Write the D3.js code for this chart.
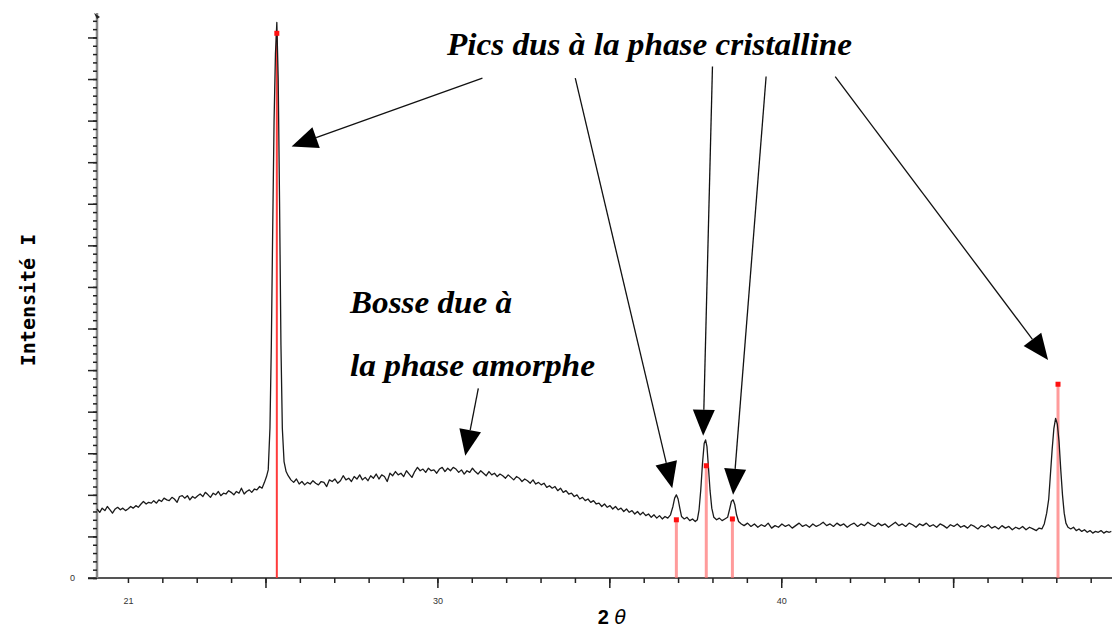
<!DOCTYPE html>
<html>
<head>
<meta charset="utf-8">
<script src="https://cdn.jsdelivr.net/npm/d3@7"></script>
<style>
  body { margin: 0; background: #fff; }
  svg { display: block; }
</style>
</head>
<body>
<div id="chart"></div>
<script>
// diffractogram, [2θ, intensity]
const scan = [
  [20.10,8.3],[20.18,7.9],[20.25,8.4],[20.33,8.1],[20.40,8.6],[20.48,8.2],[20.55,7.8],[20.63,8.3],[20.70,8.5],[20.78,8.2],
  [20.85,8.4],[20.93,8.1],[21.00,8.3],[21.08,8.6],[21.15,8.4],[21.23,8.7],[21.30,8.5],[21.38,8.9],[21.45,9.2],[21.53,8.9],
  [21.60,9.1],[21.68,9.0],[21.75,9.3],[21.83,9.0],[21.90,9.4],[21.98,9.2],[22.05,9.6],[22.13,9.4],[22.20,9.3],[22.28,9.7],
  [22.35,9.5],[22.43,9.1],[22.50,9.8],[22.58,9.9],[22.65,9.6],[22.73,9.9],[22.80,9.4],[22.88,9.8],[22.95,9.6],[23.03,9.9],
  [23.10,10.1],[23.18,9.8],[23.25,10.3],[23.33,10.0],[23.40,9.7],[23.48,10.2],[23.55,10.0],[23.63,10.4],[23.70,9.9],[23.78,10.2],
  [23.85,10.1],[23.93,10.5],[24.00,10.3],[24.08,10.0],[24.15,10.4],[24.23,10.2],[24.30,10.8],[24.38,10.1],[24.45,10.4],[24.53,10.6],
  [24.60,10.3],[24.68,10.7],[24.75,10.6],[24.83,11.0],[24.90,10.8],[24.97,11.5],[25.03,12.2],[25.08,13.0],[25.13,18.0],[25.17,28.0],
  [25.21,42.0],[25.25,55.0],[25.29,63.0],[25.33,66.8],[25.37,60.0],[25.41,45.0],[25.45,28.0],[25.49,18.0],[25.54,14.0],[25.60,12.8],
  [25.66,12.3],[25.74,11.8],[25.82,11.5],[25.90,11.9],[25.98,11.3],[26.06,11.6],[26.14,11.2],[26.22,11.5],[26.30,11.3],[26.38,11.7],
  [26.46,11.4],[26.54,11.2],[26.62,11.6],[26.70,11.5],[26.78,11.0],[26.86,11.8],[26.94,11.6],[27.02,11.9],[27.10,11.4],[27.18,11.7],
  [27.26,12.3],[27.34,11.8],[27.42,12.0],[27.50,11.6],[27.58,12.2],[27.66,11.9],[27.74,12.4],[27.82,11.8],[27.90,12.1],[27.98,11.7],
  [28.06,12.3],[28.14,12.0],[28.22,12.5],[28.30,11.9],[28.38,12.4],[28.46,12.2],[28.54,11.6],[28.62,12.6],[28.70,12.3],[28.78,12.8],
  [28.86,12.4],[28.94,12.6],[29.02,12.2],[29.10,12.9],[29.18,12.5],[29.26,12.1],[29.34,12.8],[29.42,13.3],[29.50,12.9],[29.58,13.1],
  [29.66,12.7],[29.74,13.2],[29.82,12.9],[29.90,13.0],[29.98,12.6],[30.06,13.1],[30.14,13.3],[30.22,12.8],[30.30,13.2],[30.38,12.9],
  [30.46,13.3],[30.54,13.1],[30.62,12.7],[30.70,13.0],[30.78,12.5],[30.86,12.9],[30.94,12.7],[31.02,13.2],[31.10,12.8],[31.18,12.5],
  [31.26,12.9],[31.34,12.6],[31.42,12.3],[31.50,12.8],[31.58,12.4],[31.66,12.6],[31.74,12.2],[31.82,12.5],[31.90,12.3],[31.98,12.0],
  [32.06,12.4],[32.14,12.1],[32.22,11.8],[32.30,12.2],[32.38,12.0],[32.46,11.6],[32.54,11.9],[32.62,11.7],[32.70,11.4],[32.78,11.8],
  [32.86,11.3],[32.94,11.5],[33.02,11.2],[33.10,11.4],[33.18,10.9],[33.26,11.1],[33.34,10.8],[33.42,11.0],[33.50,10.5],[33.58,10.8],
  [33.66,10.3],[33.74,10.5],[33.82,10.1],[33.90,10.2],[33.98,9.8],[34.06,10.0],[34.14,9.5],[34.22,9.7],[34.30,9.3],[34.38,9.5],
  [34.46,9.1],[34.54,9.3],[34.62,8.9],[34.70,9.0],[34.78,8.6],[34.86,8.9],[34.94,8.5],[35.02,8.7],[35.10,8.3],[35.18,8.6],
  [35.26,8.2],[35.34,8.4],[35.42,8.0],[35.50,8.3],[35.58,7.9],[35.66,8.1],[35.74,7.7],[35.82,8.0],[35.90,7.6],[35.98,7.9],
  [36.06,7.5],[36.14,7.7],[36.22,7.3],[36.30,7.6],[36.38,7.2],[36.46,7.5],[36.54,7.1],[36.62,7.4],[36.70,7.2],[36.78,7.6],
  [36.85,8.6],[36.90,9.6],[36.95,10.0],[37.00,9.5],[37.05,8.4],[37.10,7.4],[37.18,7.1],[37.26,7.3],[37.34,6.9],[37.42,7.1],
  [37.50,6.8],[37.56,7.0],[37.61,8.2],[37.66,10.6],[37.71,13.8],[37.76,16.2],[37.80,16.6],[37.84,15.8],[37.88,13.5],[37.93,10.5],
  [37.98,8.4],[38.04,7.3],[38.12,7.0],[38.20,7.2],[38.28,6.9],[38.36,7.1],[38.44,7.3],[38.50,8.3],[38.55,9.2],[38.60,9.4],
  [38.65,8.8],[38.70,7.6],[38.76,6.8],[38.84,6.5],[38.92,6.3],[39.02,6.6],[39.12,6.2],[39.22,6.5],[39.32,6.1],[39.42,6.4],
  [39.52,6.2],[39.62,6.6],[39.72,6.0],[39.82,6.3],[39.92,6.1],[40.02,6.5],[40.12,6.2],[40.22,6.4],[40.32,6.0],[40.42,6.3],
  [40.52,6.6],[40.62,6.2],[40.72,6.4],[40.82,6.1],[40.92,6.5],[41.02,6.2],[41.12,6.4],[41.22,6.7],[41.32,6.3],[41.42,6.5],
  [41.52,6.2],[41.62,6.6],[41.72,6.3],[41.82,6.5],[41.92,6.1],[42.02,6.4],[42.12,6.6],[42.22,6.2],[42.32,6.5],[42.42,6.3],
  [42.52,6.7],[42.62,6.4],[42.72,6.2],[42.82,6.6],[42.92,6.3],[43.02,6.5],[43.12,6.1],[43.22,6.4],[43.32,6.7],[43.42,6.3],
  [43.52,6.5],[43.62,6.2],[43.72,6.6],[43.82,6.4],[43.92,6.1],[44.02,6.5],[44.12,6.3],[44.22,6.6],[44.32,6.2],[44.42,6.4],
  [44.52,6.1],[44.62,6.5],[44.72,6.3],[44.82,6.0],[44.92,6.4],[45.02,6.2],[45.12,6.5],[45.22,6.1],[45.32,6.3],[45.42,6.0],
  [45.52,6.4],[45.62,6.2],[45.72,5.9],[45.82,6.3],[45.92,6.1],[46.02,6.4],[46.12,6.0],[46.22,6.2],[46.32,5.9],[46.42,6.3],
  [46.52,6.0],[46.62,6.2],[46.72,5.8],[46.82,6.1],[46.92,5.9],[47.02,6.2],[47.12,5.8],[47.22,6.1],[47.32,5.9],[47.42,5.7],
  [47.50,6.0],[47.58,5.9],[47.65,6.5],[47.72,7.8],[47.78,9.5],[47.83,12.5],[47.88,15.5],[47.93,18.0],[47.98,19.2],[48.03,18.5],
  [48.08,16.4],[48.13,13.0],[48.18,10.0],[48.23,7.8],[48.28,6.6],[48.34,6.1],[48.42,5.9],[48.50,6.1],[48.58,5.7],[48.66,5.9],
  [48.74,5.6],[48.82,5.8],[48.90,5.5],[48.98,5.7],[49.06,5.4],[49.14,5.6],[49.22,5.5],[49.30,5.7],[49.38,5.4],[49.46,5.6],
  [49.54,5.5],[49.60,5.6]
];

// reference lines (crystalline phase)
const refAngles = [25.33, 36.95, 37.82, 38.58, 48.05];
const refIntensities = [65.5, 7.0, 13.5, 7.1, 23.3];

const xMinorTicks = d3.range(21, 50);
const xMajorTicks = [25, 30, 35, 40, 45];
const xTickLabels = [21, 30, 40];
const yMinorTicks = d3.range(0, 68);
const yMajorTicks = d3.range(0, 68, 5);

const crystalTitle = "Pics dus à la phase cristalline";
const amorphLabel = ["Bosse due à", "la phase amorphe"];
const yTitle = "Intensité I";

// arrows: tail [2θ, I] -> tip [2θ, I]
const crystalArrowTails = [[31.31, 60.1], [34.01, 60.1], [38.00, 61.5], [39.56, 60.3], [41.57, 60.3]];
const crystalArrowTips = [[25.76, 51.9], [36.83, 10.8], [37.73, 17.1], [38.60, 10.0], [47.76, 26.2]];
const amorphArrowTail = [31.19, 22.8];
const amorphArrowTip = [30.81, 14.7];

const W = 1112, H = 631;

const svg = d3.select("#chart").append("svg")
    .attr("width", W)
    .attr("height", H);

const x = d3.scaleLinear().domain([20.1, 49.62]).range([97, 1112]);
const y = d3.scaleLinear().domain([0, 67.7]).range([578, 15]);

// x axis
svg.append("line")
    .attr("x1", 88).attr("x2", W)
    .attr("y1", y(0)).attr("y2", y(0))
    .attr("stroke", "#555").attr("stroke-width", 2);

const xAxisMinor = d3.axisBottom(x).tickValues(xMinorTicks).tickSize(5).tickFormat("");
const xAxisMajor = d3.axisBottom(x).tickValues(xMajorTicks).tickSize(10).tickFormat("");
const xAxisLabels = d3.axisBottom(x).tickValues(xTickLabels).tickSize(0).tickPadding(20).tickFormat(d3.format("d"));

[xAxisMinor, xAxisMajor, xAxisLabels].forEach(ax => {
    const g = svg.append("g").attr("transform", `translate(0,${y(0)})`).call(ax);
    g.select(".domain").remove();
    g.selectAll("line").attr("stroke", "#222").attr("stroke-width", 1.5);
    g.selectAll("text").attr("font-family", "Arial, 'Liberation Sans', sans-serif")
        .attr("font-size", 9).attr("fill", "#333");
});

// y axis
svg.append("line")
    .attr("x1", x(20.1)).attr("x2", x(20.1))
    .attr("y1", 13).attr("y2", y(0))
    .attr("stroke", "#888").attr("stroke-width", 2.5);

const yAxisMinor = d3.axisLeft(y).tickValues(yMinorTicks).tickSize(4).tickFormat("");
const yAxisMajor = d3.axisLeft(y).tickValues(yMajorTicks).tickSize(9).tickFormat("");
const yAxisLabel = d3.axisLeft(y).tickValues([0]).tickSize(0).tickPadding(22).tickFormat(d3.format("d"));

[yAxisMinor, yAxisMajor, yAxisLabel].forEach(ax => {
    const g = svg.append("g").attr("transform", `translate(${x(20.1)},0)`).call(ax);
    g.select(".domain").remove();
    g.selectAll("line").attr("stroke", "#222").attr("stroke-width", 1.5);
    g.selectAll("text").attr("font-family", "Arial, 'Liberation Sans', sans-serif")
        .attr("font-size", 9).attr("fill", "#333");
});

// small cap at top of y axis
svg.append("path")
    .attr("d", `M${x(20.1) - 3},${13} L${x(20.1) + 3},${17} L${x(20.1)},${19} Z`)
    .attr("fill", "#222");

// red reference sticks (behind the curve)
const refs = refAngles.map((a, i) => ({ a: a, v: refIntensities[i] }));

svg.selectAll(".ref")
    .data(refs)
    .enter().append("line")
    .attr("class", "ref")
    .attr("x1", d => x(d.a)).attr("x2", d => x(d.a))
    .attr("y1", y(0)).attr("y2", d => y(d.v))
    .attr("stroke", (d, i) => i === 0 ? "#ff3030" : "#ff7070")
    .attr("stroke-opacity", (d, i) => i === 0 ? 0.95 : 0.7)
    .attr("stroke-width", (d, i) => i === 0 ? 2 : 3);

// measured curve
const line = d3.line()
    .x(d => x(d[0]))
    .y(d => y(d[1]));

svg.append("path")
    .datum(scan)
    .attr("d", line)
    .attr("fill", "none")
    .attr("stroke", "#1a1a1a")
    .attr("stroke-width", 1.3)
    .attr("stroke-linejoin", "round");

// red marks on top of sticks
svg.selectAll(".refdot")
    .data(refs)
    .enter().append("rect")
    .attr("class", "refdot")
    .attr("x", d => x(d.a) - 2.5)
    .attr("y", d => y(d.v) - 2.5)
    .attr("width", 5).attr("height", 5)
    .attr("fill", "#ff1010");

// annotation arrows
function arrow(tail, tip) {
    const x0 = x(tail[0]), y0 = y(tail[1]);
    const x1 = x(tip[0]), y1 = y(tip[1]);
    const dx = x1 - x0, dy = y1 - y0;
    const len = Math.sqrt(dx * dx + dy * dy);
    const ux = dx / len, uy = dy / len;
    const headLen = 26, halfW = 11;
    const bx = x1 - ux * headLen, by = y1 - uy * headLen;

    svg.append("line")
        .attr("x1", x0).attr("y1", y0)
        .attr("x2", bx).attr("y2", by)
        .attr("stroke", "#111").attr("stroke-width", 1.3);

    svg.append("path")
        .attr("d", `M${x1},${y1} L${bx - uy * halfW},${by + ux * halfW} L${bx + uy * halfW},${by - ux * halfW} Z`)
        .attr("fill", "#000");
}

crystalArrowTails.forEach((t, i) => arrow(t, crystalArrowTips[i]));
arrow(amorphArrowTail, amorphArrowTip);

// annotation text
const serif = "'Times New Roman', 'Liberation Serif', serif";

svg.append("text")
    .attr("x", 447).attr("y", 55)
    .attr("font-family", serif)
    .attr("font-weight", "bold").attr("font-style", "italic")
    .attr("font-size", 32)
    .attr("textLength", 405).attr("lengthAdjust", "spacingAndGlyphs")
    .text(crystalTitle);

svg.append("text")
    .attr("x", 350).attr("y", 313)
    .attr("font-family", serif)
    .attr("font-weight", "bold").attr("font-style", "italic")
    .attr("font-size", 32)
    .attr("textLength", 162).attr("lengthAdjust", "spacingAndGlyphs")
    .text(amorphLabel[0]);

svg.append("text")
    .attr("x", 350).attr("y", 376)
    .attr("font-family", serif)
    .attr("font-weight", "bold").attr("font-style", "italic")
    .attr("font-size", 32)
    .attr("textLength", 245).attr("lengthAdjust", "spacingAndGlyphs")
    .text(amorphLabel[1]);

// axis titles
svg.append("text")
    .attr("transform", "translate(28,300) rotate(-90)")
    .attr("text-anchor", "middle")
    .attr("dominant-baseline", "central")
    .attr("font-family", "'DejaVu Sans Mono', monospace")
    .attr("font-weight", "bold")
    .attr("font-size", 20)
    .text(yTitle);

const xTitle = svg.append("text")
    .attr("x", 612).attr("y", 624)
    .attr("text-anchor", "middle")
    .attr("font-size", 20);
xTitle.append("tspan")
    .attr("font-family", "Arial, 'Liberation Sans', sans-serif")
    .attr("font-weight", "bold")
    .text("2 ");
xTitle.append("tspan")
    .attr("font-family", "'DejaVu Sans', sans-serif")
    .attr("font-style", "italic")
    .attr("font-weight", "normal")
    .attr("font-size", 19)
    .text("θ");
</script>
</body>
</html>
